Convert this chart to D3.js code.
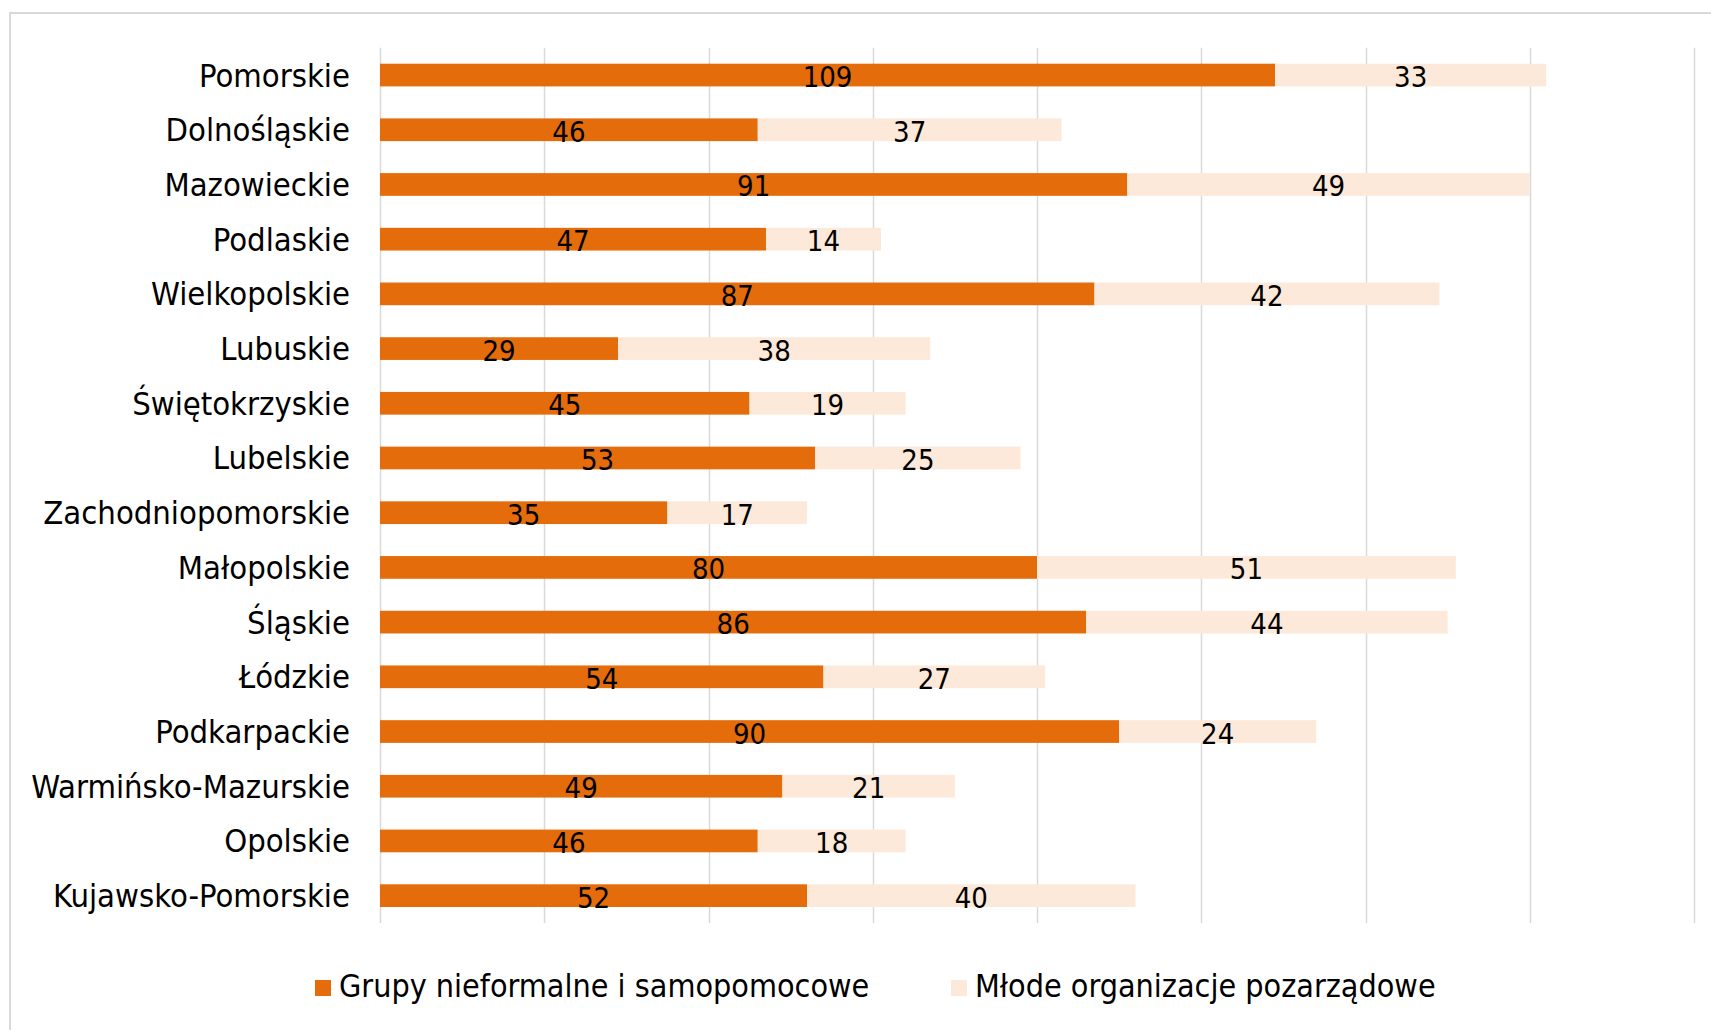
<!DOCTYPE html>
<html>
<head>
<meta charset="utf-8">
<script src="https://cdn.jsdelivr.net/npm/d3@7"></script>
<style>
  body { margin: 0; background: #fff; }
  svg text { font-family: "DejaVu Sans Condensed", "DejaVu Sans", sans-serif; font-stretch: condensed; fill: #000; }
</style>
</head>
<body>
<div id="chart"></div>
<script>
// Dane: województwa (od góry) i dwie serie
const regions = ["Pomorskie", "Dolnośląskie", "Mazowieckie", "Podlaskie", "Wielkopolskie", "Lubuskie",
  "Świętokrzyskie", "Lubelskie", "Zachodniopomorskie", "Małopolskie", "Śląskie", "Łódzkie",
  "Podkarpackie", "Warmińsko-Mazurskie", "Opolskie", "Kujawsko-Pomorskie"];
const grupy = [109, 46, 91, 47, 87, 29, 45, 53, 35, 80, 86, 54, 90, 49, 46, 52];
const mlode = [33, 37, 49, 14, 42, 38, 19, 25, 17, 51, 44, 27, 24, 21, 18, 40];
const seriesNames = ["Grupy nieformalne i samopomocowe", "Młode organizacje pozarządowe"];
const gridTicks = [0, 20, 40, 60, 80, 100, 120, 140, 160];

const width = 1711, height = 1030;
const colors = ["#E46C0A", "#FDE9D9"];

const svg = d3.select("#chart").append("svg")
  .attr("width", width)
  .attr("height", height);

// ramka wykresu
svg.append("rect")
  .attr("x", 10).attr("y", 13)
  .attr("width", 1760).attr("height", 1100)
  .attr("fill", "none")
  .attr("stroke", "#D9D9D9")
  .attr("stroke-width", 2);

const x = d3.scaleLinear().domain([0, 160]).range([380, 1694]);
const y = d3.scaleBand().domain(regions).range([47.7, 923]).paddingInner(0.585).paddingOuter(0.2925);

// linie siatki
svg.append("g").selectAll("line")
  .data(gridTicks)
  .join("line")
  .attr("x1", d => Math.round(x(d)) + 0.5)
  .attr("x2", d => Math.round(x(d)) + 0.5)
  .attr("y1", 47.7)
  .attr("y2", 923)
  .attr("stroke", "#D9D9D9")
  .attr("stroke-width", 1.5);

const rows = regions.map((r, i) => ({ region: r, a: grupy[i], b: mlode[i] }));

const stack = d3.stack().keys(["a", "b"])(rows);

stack.forEach((layer, k) => {
  const g = svg.append("g");
  g.selectAll("rect")
    .data(layer)
    .join("rect")
    .attr("x", d => x(d[0]))
    .attr("y", d => y(d.data.region))
    .attr("width", d => x(d[1]) - x(d[0]))
    .attr("height", y.bandwidth())
    .attr("fill", colors[k]);
  g.selectAll("text")
    .data(layer)
    .join("text")
    .attr("x", d => (x(d[0]) + x(d[1])) / 2)
    .attr("y", d => y(d.data.region) + y.bandwidth() / 2 + 12)
    .attr("text-anchor", "middle")
    .attr("font-size", 29)
    .text(d => d[1] - d[0]);
});

// etykiety kategorii
svg.append("g").selectAll("text")
  .data(regions)
  .join("text")
  .attr("x", 350)
  .attr("y", d => y(d) + y.bandwidth() / 2 + 11.5)
  .attr("text-anchor", "end")
  .attr("font-size", 32.5)
  .text(d => d);

// legenda
const legendX = [315, 951];
const legend = svg.append("g").selectAll("g")
  .data(seriesNames)
  .join("g")
  .attr("transform", (d, i) => `translate(${legendX[i]},980)`);
legend.append("rect")
  .attr("width", 16).attr("height", 16)
  .attr("fill", (d, i) => colors[i]);
legend.append("text")
  .attr("x", 24)
  .attr("y", 17)
  .attr("font-size", 32)
  .text(d => d);
</script>
</body>
</html>
